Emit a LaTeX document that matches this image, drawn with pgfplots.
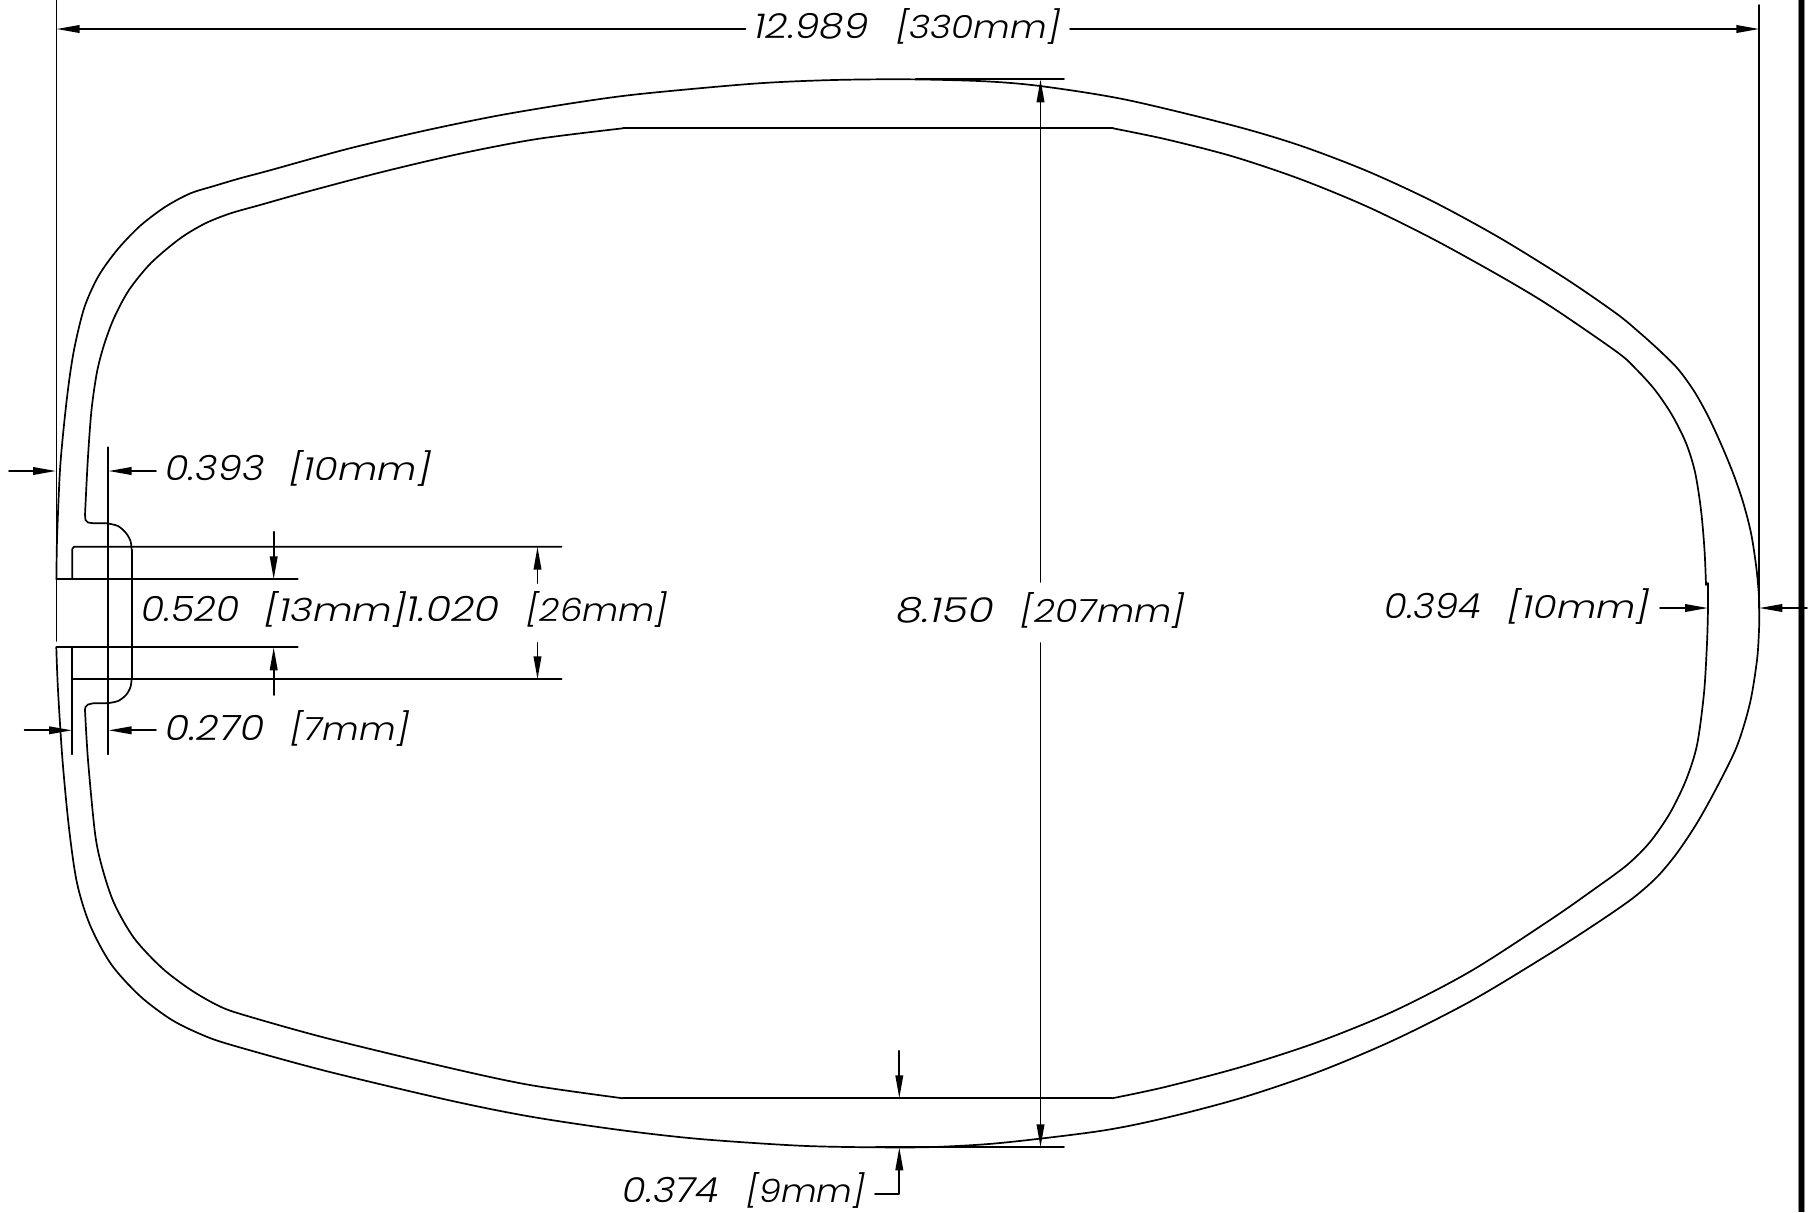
\documentclass[border=0pt]{standalone}
\usepackage{fontspec}
\usepackage{pgfplots}
\pgfplotsset{compat=1.18}
\usetikzlibrary{arrows.meta}
\newfontfamily\dimf{Poppins Light Italic}
\pgfplotsset{
  ln/.style={black,line width=0.85pt,no marks,line cap=round,line join=round},
  cv/.style={ln,smooth,tension=0.5},
  ar/.style={ln,-{Triangle[length=11.5pt,width=3.8pt]}},
}
% #1 baseline y, #2 x of number, #3 width of number (px), #4 number, #5 x of bracket, #6 width of bracket (px), #7 bracket
\newcommand{\dimtext}[7]{%
  \node[inner sep=0pt,anchor=base west] at (axis cs:#2,#1) {\resizebox{\dimexpr#3pt/2\relax}{12.6pt}{\fontsize{18}{18}\dimf #4}};
  \node[inner sep=0pt,anchor=base west] at (axis cs:#5,#1) {\resizebox{\dimexpr#6pt/2\relax}{15pt}{\fontsize{18}{18}\dimf #7}};}
\begin{document}
\begin{tikzpicture}
\begin{axis}[
  scale only axis,width=905pt,height=606pt,
  xmin=0,xmax=1810,ymin=0,ymax=1212,y dir=reverse,
  hide axis,clip=true]
% outer contour
\addplot[cv] coordinates {(56.5,579)(57,540)(60,470)(64.5,420)(69.5,378)(75,345)(84.5,307)(98.5,276)(117.5,249.5)(140,226)(165,207)(190,193.5)(214,186)(240,178.3)(270,170.3)(346,149.3)(423,131)(499,115.4)(576,102.6)(640,94)(753,83.7)(830,80.1)(906,79.3)(983,81.2)(1040,86)(1125,99.5)(1233,125.5)(1300,145.5)(1367,171)(1433,201.5)(1500,238)(1567,279.5)(1617,314)(1640,333)(1660,351)(1678,369)(1694,391)(1708,416)(1721,444)(1733,473)(1743,502)(1751,533)(1756,565)(1758.5,590)(1759.3,608)(1759,630)(1757,660)(1750,703)(1737,746)(1717,787)(1697,823)(1677,853)(1657,877)(1633,898)(1600,921)(1547.5,955)(1471,1001)(1394,1040)(1318,1072)(1241,1098)(1165,1118)(1100,1131)(1000,1143)(933,1147)(876,1147.3)(800,1145.7)(700,1139)(620,1130)(530,1116.5)(448,1100)(326,1071)(235,1046)(205,1036)(172,1020)(140,996)(111,964)(90,925)(77,883)(69,828)(62.5,760)(58,690)(56.3,647.3)};
% inner contour
\addplot[cv] coordinates {(85,515)(87.8,460)(91.5,410)(97,372)(104,345)(114,318)(129,290)(151,263)(180,238.5)(205,223.5)(230,213.5)(260,205)(308,191.5)(384,171.5)(461,153.5)(537,139)(623,128.3)};
\addplot[ln] coordinates {(623,128.3)(1113,128.3)};
\addplot[cv] coordinates {(1113,128.3)(1167,139.5)(1233,156.5)(1300,179)(1367,206.5)(1433,239)(1500,276)(1550,306)(1617,352)(1636,369)(1655,390)(1672,415)(1686,443)(1695,472)(1701,510)(1704.5,550)(1706,585)};
\addplot[cv] coordinates {(1708,583)(1708,608)(1707,643)(1704,693)(1697,745)(1686,780)(1670,813)(1650,842)(1627,865)(1593,890)(1550,920)(1471,971)(1394,1011)(1318,1042)(1241,1067)(1165,1087)(1112,1098.3)};
\addplot[ln] coordinates {(1112,1098.3)(623,1098.3)};
\addplot[cv] coordinates {(623,1098.3)(530,1085)(448,1067.5)(326,1038)(244,1015)(219,1006)(191,990)(162,968)(134,938)(114,903)(102,867)(95,833)(88,760)(85,710)};
% slot
\addplot[ln] coordinates {(85,515)(85.5,520)(88,522.5)(93.8,523.3)(107,523.3)};
\addplot[cv] coordinates {(107,523.3)(118,526)(126,533)(130.5,541)(131.7,550)};
\addplot[ln] coordinates {(131.7,550)(131.7,678)};
\addplot[cv] coordinates {(131.7,678)(130.5,687)(126,695)(118,701)(107,703.3)};
\addplot[ln] coordinates {(107,703.3)(93,703.3)(88,704.5)(85.5,707)(85,710)};
% extension lines
\addplot[ln] coordinates {(56.5,0)(56.5,641)};
\addplot[ln] coordinates {(1759.3,5)(1759.3,608)};
\addplot[ln] coordinates {(108,447.3)(108,754.3)};
\addplot[ln] coordinates {(72.3,579.3)(72.3,549)(74,546.7)(561.6,546.7)};
\addplot[ln] coordinates {(56.3,579.3)(297.8,579.3)};
\addplot[ln] coordinates {(56.3,647.3)(297.8,647.3)};
\addplot[ln] coordinates {(72.3,754.3)(72.3,647.3)};
\addplot[ln] coordinates {(72.3,679.3)(561.6,679.3)};
\addplot[ln] coordinates {(915.7,79.3)(1064,79.3)};
\addplot[ln] coordinates {(876,1147.3)(1064,1147.3)};
\addplot[ln] coordinates {(875,1098.3)(899,1098.3)};
% right edge
\addplot[black!45,line width=3.35pt,no marks] coordinates {(1801.5,0)(1801.5,1212)};
\addplot[black,line width=2.35pt,no marks] coordinates {(1801.6,0)(1801.6,1212)};
% dimension arrows
\addplot[ar] coordinates {(745.4,29)(56.5,29)};
\addplot[ar] coordinates {(1070,29)(1759.3,29)};
\addplot[ar] coordinates {(1040.5,582)(1040.5,79.3)};
\addplot[ar] coordinates {(1040.5,643)(1040.5,1147.3)};
\addplot[ar] coordinates {(9,471)(56,471)};
\addplot[ar] coordinates {(156,471)(108.5,471)};
\addplot[ar] coordinates {(24.6,730.3)(72,730.3)};
\addplot[ar] coordinates {(156,730.3)(108.5,730.3)};
\addplot[ar] coordinates {(273.7,531.7)(273.7,579.3)};
\addplot[ar] coordinates {(273.7,695)(273.7,647.3)};
\addplot[ar] coordinates {(537.5,583.3)(537.5,546.7)};
\addplot[ar] coordinates {(537.5,642.7)(537.5,679.3)};
\addplot[ar] coordinates {(1660,608)(1708,608)};
\addplot[ar] coordinates {(1807,608)(1759.3,608)};
\addplot[ar] coordinates {(899.3,1050.7)(899.3,1098.3)};
\addplot[ar] coordinates {(875,1194.3)(899.3,1194.3)(899.3,1147.3)};
% dimension texts
\dimtext{38.3}{754}{114}{12.989}{896}{164}{[330mm]}
\dimtext{480}{165}{99}{0.393}{289}{142}{[10mm]}
\dimtext{621.7}{141}{98}{0.520}{264.5}{142}{[13mm]}
\dimtext{621.7}{406.5}{93}{1.020}{526.5}{141}{[26mm]}
\dimtext{740}{165}{99}{0.270}{290}{119}{[7mm]}
\dimtext{622}{896}{98}{8.150}{1020.5}{164}{[207mm]}
\dimtext{618}{1384}{97}{0.394}{1507.5}{142}{[10mm]}
\dimtext{1202.7}{622}{97}{0.374}{746}{119}{[9mm]}
\end{axis}
\path (0,0) rectangle (905pt,606pt);
\end{tikzpicture}
\end{document}
